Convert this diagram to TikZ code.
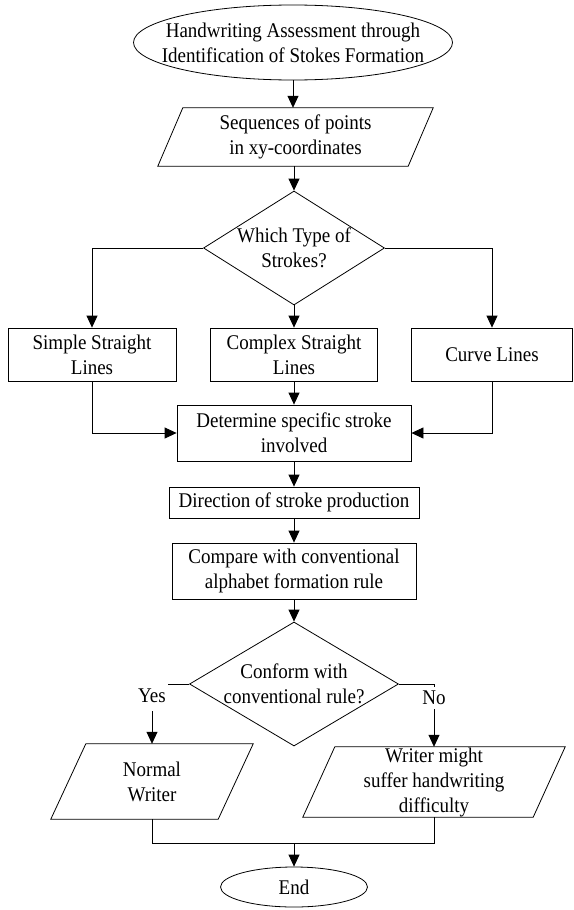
\documentclass[tikz,border=0pt]{standalone}
\usepackage{fontspec}
\usepackage{graphicx}
\setmainfont{Liberation Serif}
\usetikzlibrary{shapes.geometric,arrows.meta}
\newcommand\vstr[1]{\scalebox{1}[1.1]{#1}}
\begin{document}
\begin{tikzpicture}[x=1pt,y=-1pt,
  every node/.style={font=\fontsize{19}{25}\selectfont},
  shp/.style={draw, line width=0.8pt, inner sep=0.1pt},
  box/.style={shp, rectangle, align=center, inner sep=0pt},
  ell/.style={shp, ellipse},
  dia/.style={shp, diamond},
  pbox/.style={rectangle, inner sep=0pt, align=center},
  outline/.style={line width=0.8pt, line join=miter},
  txt/.style={align=center, inner sep=0pt},
  lbl/.style={fill=white, inner sep=0pt, minimum width=32pt},
  conn/.style={line width=0.8pt, -{Triangle[length=12pt,width=11pt]}},
  plain/.style={line width=0.8pt},
]
\useasboundingbox (0,0) rectangle (573,910);

% shapes
\node[ell, minimum width=319pt, minimum height=75pt] (start) at (293,42.5) {};
\node[txt] (startT) at (start.center) {\vstr{Handwriting Assessment through}\\\vstr{Identification of Stokes Formation}};

\node[pbox, minimum width=275pt, minimum height=58pt] (seq) at (295.5,137) {\vstr{Sequences of points}\\\vstr{in xy-coordinates}};
\draw[outline] (seq.south west) -- ([xshift=25pt]seq.north west) -- (seq.north east)
  -- ([xshift=-25pt]seq.south east) -- cycle;

\node[dia, minimum width=181pt, minimum height=114pt] (d1) at (294,248) {};
\node[txt] (d1T) at (d1.center) {\vstr{Which Type of}\\\vstr{Strokes?}};

\node[box, minimum width=168pt, minimum height=53pt] (simple) at (92,354.5) {\vstr{Simple Straight}\\\vstr{Lines}};
\node[box, minimum width=167pt, minimum height=53pt] (complex) at (294,354.5) {\vstr{Complex Straight}\\\vstr{Lines}};
\node[box, minimum width=161pt, minimum height=53pt] (curve) at (492,354.5) {\vstr{Curve Lines}};

\node[box, minimum width=234pt, minimum height=56pt] (determine) at (294,433) {\vstr{Determine specific stroke}\\\vstr{involved}};
\node[box, minimum width=250pt, minimum height=31pt] (direction) at (294,502.5) {\vstr{Direction of stroke production}};
\node[box, minimum width=244pt, minimum height=56pt] (compare) at (294,571) {\vstr{Compare with conventional}\\\vstr{alphabet formation rule}};

\node[dia, minimum width=209pt, minimum height=124pt] (d2) at (294,684) {};
\node[txt] (d2T) at (d2.center) {\vstr{Conform with}\\\vstr{conventional rule?}};

\node[pbox, minimum width=202pt, minimum height=75pt] (normal) at (152,781.5) {\vstr{Normal}\\\vstr{Writer}};
\draw[outline] (normal.south west) -- ([xshift=35pt]normal.north west) -- (normal.north east)
  -- ([xshift=-35pt]normal.south east) -- cycle;

\node[pbox, minimum width=262pt, minimum height=70pt] (writer) at (434,782) {\vstr{Writer might}\\\vstr{suffer handwriting}\\\vstr{difficulty}};
\draw[outline] (writer.south west) -- ([xshift=32pt]writer.north west) -- (writer.north east)
  -- ([xshift=-32pt]writer.south east) -- cycle;

\node[ell, minimum width=147pt, minimum height=40pt] (end) at (294,887) {};
\node[txt] (endT) at (end.center) {\vstr{End}};

% connectors
\draw[conn] (start.south) -- (start.south |- seq.north);
\draw[conn] (d1.north |- seq.south) -- (d1.north);
\draw[conn] (d1.west) -| (simple.north);
\draw[conn] (d1.east) -| (curve.north);
\draw[conn] (d1.south) -- (complex.north);
\draw[conn] (simple.south) |- (determine.west);
\draw[conn] (curve.south) |- (determine.east);
\draw[conn] (complex.south) -- (determine.north);
\draw[conn] (determine.south) -- (direction.north);
\draw[conn] (direction.south) -- (compare.north);
\draw[conn] (compare.south) -- (d2.north);
\draw[conn] (d2.west) -| (normal.north);
\draw[conn] (d2.east) -| (writer.north);
\node[lbl, minimum height=30pt] (yes) at (152,696) {\vstr{Yes}};
\node[lbl, minimum height=22pt] (no) at (434,698) {\vstr{No}};
\coordinate (j) at (294,843);
\draw[plain] (normal.south) |- (j) -| (writer.south);
\draw[conn] (j) -- (end.north);
\end{tikzpicture}
\end{document}
